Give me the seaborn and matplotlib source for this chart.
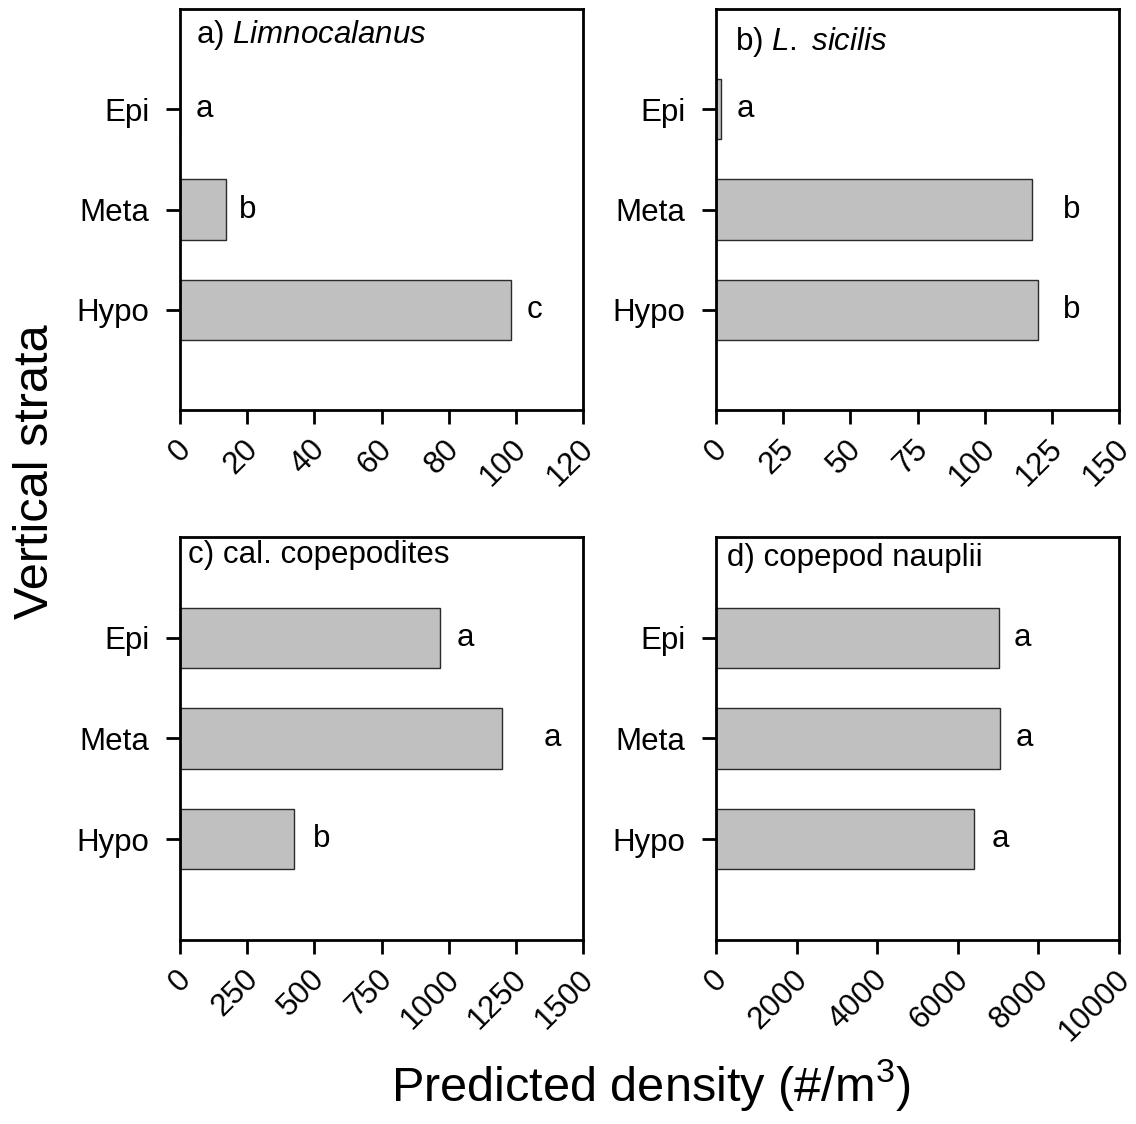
import pandas as pd
import seaborn as sns
import matplotlib.pyplot as plt
import matplotlib.transforms as mtransforms

# predicted densities
strata = ["Epi", "Meta", "Hypo"]

limno = [0.0, 13.6, 98.6]
sicilis = [1.7, 117.5, 119.7]
copepodites = [968, 1200, 425]
nauplii = [7015, 7056, 6395]

# significance letters and where they sit on the x axis
limno_letters = ["a", "b", "c"]
sicilis_letters = ["a", "b", "b"]
copepodites_letters = ["a", "a", "b"]
nauplii_letters = ["a", "a", "a"]

limno_letter_x = [7.4, 20.2, 105.7]
sicilis_letter_x = [10.8, 132.5, 132.5]
copepodites_letter_x = [1061, 1385, 528]
nauplii_letter_x = [7593, 7643, 7047]

limno_ticks = [0, 20, 40, 60, 80, 100, 120]
sicilis_ticks = [0, 25, 50, 75, 100, 125, 150]
copepodites_ticks = [0, 250, 500, 750, 1000, 1250, 1500]
nauplii_ticks = [0, 2000, 4000, 6000, 8000, 10000]

sns.set_style("white")
plt.rcParams['font.family'] = ['Liberation Sans', 'DejaVu Sans']
plt.rcParams['mathtext.fontset'] = 'custom'
plt.rcParams['mathtext.rm'] = 'Liberation Sans'
plt.rcParams['mathtext.it'] = 'Liberation Sans:italic'
plt.rcParams['text.color'] = 'black'

FS = 22.5

panels = [
    (limno, limno_letters, limno_letter_x, limno_ticks, "a) $\\mathit{Limnocalanus}$", (0.04, 0.935)),
    (sicilis, sicilis_letters, sicilis_letter_x, sicilis_ticks, "b) $\\mathit{L.\\ sicilis}$", (0.047, 0.918)),
    (copepodites, copepodites_letters, copepodites_letter_x, copepodites_ticks, "c) cal. copepodites", (0.02, 0.955)),
    (nauplii, nauplii_letters, nauplii_letter_x, nauplii_ticks, "d) copepod nauplii", (0.027, 0.948)),
]

positions = [
    [180 / 1136, 1 - 410 / 1124, 403 / 1136, 401 / 1124],
    [716 / 1136, 1 - 410 / 1124, 403 / 1136, 401 / 1124],
    [180 / 1136, 1 - 940 / 1124, 403 / 1136, 403 / 1124],
    [716 / 1136, 1 - 940 / 1124, 403 / 1136, 403 / 1124],
]

fig = plt.figure(figsize=(11.36, 11.24), dpi=100)
shift = mtransforms.ScaledTranslation(6 / 100, -7 / 100, fig.dpi_scale_trans)

for (vals, letters, lx, ticks, title, tpos), pos in zip(panels, positions):
    ax = fig.add_axes(pos)
    df = pd.DataFrame({"strata": strata, "density": vals})
    sns.barplot(data=df, x="density", y="strata", orient="h", color="#c0c0c0",
                width=0.6, edgecolor="#2a2a2a", linewidth=1.0, saturation=1, ax=ax)
    for i in range(len(strata)):
        ax.text(lx[i], i, letters[i], fontsize=FS, ha="center", va="center", color="black")
    ax.set_xlim(ticks[0], ticks[-1])
    ax.set_ylim(3, -1)
    ax.set_xticks(ticks)
    ax.set_xticklabels([str(t) for t in ticks])
    ax.set_xlabel("")
    ax.set_ylabel("")
    ax.tick_params(axis="both", direction="out", length=10, width=2, labelsize=FS,
                   colors="black", left=True, bottom=True)
    ax.tick_params(axis="y", pad=12)
    ax.tick_params(axis="x", pad=10)
    for lab in ax.get_xticklabels():
        lab.set_rotation(45)
        lab.set_ha("right")
        lab.set_va("center")
        lab.set_rotation_mode("anchor")
        lab.set_transform(lab.get_transform() + shift)
    for sp in ax.spines.values():
        sp.set_visible(True)
        sp.set_color("black")
        sp.set_linewidth(2)
    ax.text(tpos[0], tpos[1], title, transform=ax.transAxes, fontsize=FS,
            ha="left", va="center", color="black")

fig.text(0.031, 0.58, "Vertical strata", rotation=90, fontsize=35, ha="center", va="center",
         color="black")
fig.text(0.573, 0.035, "Predicted density (#/m$^3$)", fontsize=35, ha="center", va="center",
         color="black")

plt.savefig("out.png", dpi=100)
